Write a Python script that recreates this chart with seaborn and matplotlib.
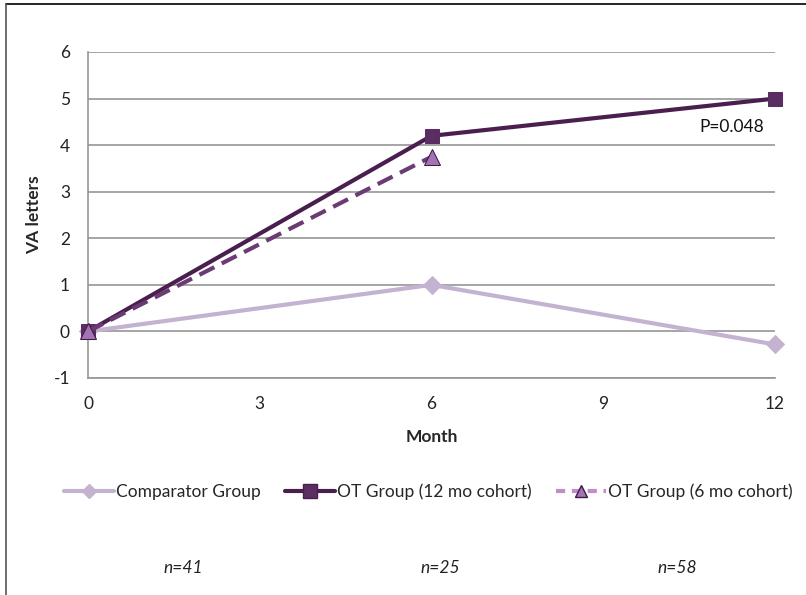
import numpy as np
import pandas as pd
import matplotlib
matplotlib.use("Agg")
import matplotlib.pyplot as plt
import seaborn as sns
from matplotlib.lines import Line2D

# values
months_12 = [0, 6, 12]
months_6 = [0, 6]
comparator = [0, 1.0, -0.28]
ot_12mo = [0, 4.2, 5.0]
ot_6mo = [0, 3.75]
n_labels = ["n=41", "n=25", "n=58"]
n_xpos = [183, 440, 677]

sns.set_style("white")
plt.rcParams['font.family'] = ['Lato', 'DejaVu Sans']
plt.rcParams['axes.unicode_minus'] = False

c_comp = "#c3b3d1"
c_ot12 = "#4a1f4f"
c_ot6 = "#6b3c74"
c_ot6_mk = "#a473b3"
fs = 12.5

fig = plt.figure(figsize=(8.06, 5.95), dpi=100)
ax = fig.add_axes([88 / 806, 1 - 378 / 595, (775 - 88) / 806, (378 - 52) / 595])

df_comp = pd.DataFrame({"Month": months_12, "VA": comparator})
df_12 = pd.DataFrame({"Month": months_12, "VA": ot_12mo})
df_6 = pd.DataFrame({"Month": months_6, "VA": ot_6mo})

sns.lineplot(data=df_comp, x="Month", y="VA", ax=ax, color=c_comp, lw=3,
             marker="D", markersize=9, markeredgecolor=c_comp, clip_on=False, zorder=3)
sns.lineplot(data=df_12, x="Month", y="VA", ax=ax, color=c_ot12, lw=3,
             marker="s", markersize=10, markerfacecolor="#5a2e62",
             markeredgecolor="#5a2e62", clip_on=False, zorder=4)
sns.lineplot(data=df_6, x="Month", y="VA", ax=ax, color=c_ot6, lw=3,
             marker="^", markersize=11, markerfacecolor=c_ot6_mk,
             markeredgecolor="#3f1a45", clip_on=False, zorder=5)
ax.lines[-1].set_dashes([4, 2])

ax.set_xlim(0, 12)
ax.set_ylim(-1, 6)
ax.set_xticks([0, 3, 6, 9, 12])
ax.set_yticks(range(-1, 7))
ax.yaxis.grid(True, color="#969696", lw=1.2)
ax.xaxis.grid(False)
for s in ["top", "right"]:
    ax.spines[s].set_visible(False)
for s in ["left", "bottom"]:
    ax.spines[s].set_color("#969696")
    ax.spines[s].set_linewidth(1.2)
ax.tick_params(axis="both", direction="out", length=5, width=1.2, color="#969696",
               labelsize=fs, labelcolor="#222222")
ax.tick_params(axis="y", pad=8)
ax.tick_params(axis="x", pad=8)
ax.set_xlabel("Month", fontsize=fs, fontweight="bold", labelpad=12)
ax.set_ylabel("VA letters", fontsize=fs, fontweight="bold", labelpad=8)

ax.text(11.25, 4.4, "P=0.048", fontsize=fs, ha="center", va="center", color="#111111")

handles = [
    Line2D([], [], color=c_comp, lw=3, marker="D", markersize=7),
    Line2D([], [], color=c_ot12, lw=3, marker="s", markersize=10,
           markerfacecolor="#5a2e62", markeredgecolor="#4a1f4f"),
    Line2D([], [], color="#c48ac9", lw=3, ls=(0, (2.2, 1.6)), marker="^", markersize=9,
           markerfacecolor=c_ot6_mk, markeredgecolor="#3f1a45"),
]
labels = ["Comparator Group", "OT Group (12 mo cohort)", "OT Group (6 mo cohort)"]
fig.legend(handles, labels, loc="center", bbox_to_anchor=(428 / 806, 1 - 492 / 595),
           ncol=3, frameon=False, fontsize=fs, handlelength=2.9, handletextpad=0.1,
           columnspacing=1.4)

for lab, xp in zip(n_labels, n_xpos):
    fig.text(xp / 806, 1 - 568 / 595, lab, fontsize=fs, style="italic",
             ha="center", va="center", color="#222222")

# outer frame lines (top and left) as in the reference crop
fig.add_artist(Line2D([6 / 806, 1], [1 - 4 / 595, 1 - 4 / 595], color="black", lw=1.2))
fig.add_artist(Line2D([6 / 806, 6 / 806], [0, 1 - 4 / 595], color="#555555", lw=1.2))

fig.savefig("out.png", dpi=100)
